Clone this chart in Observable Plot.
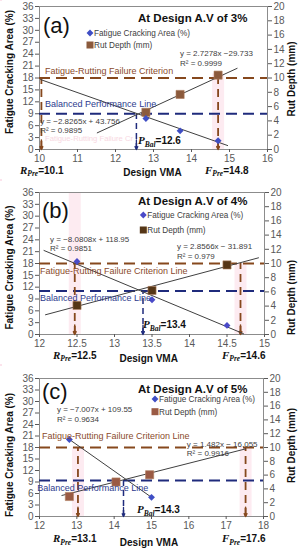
<!DOCTYPE html>
<html><head><meta charset="utf-8">
<script src="https://cdn.jsdelivr.net/npm/d3@7"></script>
<script src="https://cdn.jsdelivr.net/npm/@observablehq/plot@0.6"></script>
<style>
html,body{margin:0;padding:0;background:#fff}
#root{width:301px;height:550px;overflow:hidden}
#root svg{display:block;overflow:visible}
</style></head><body><div id="root"></div>
<script>
// ---------- shared ----------
const fatigueTicks = [0,3,6,9,12,15,18,21,24,27,30,33,36];
const rutTicks = [0,2,4,6,8,10,12,14,16,18,20];
const legendLabels = ["Fatigue Cracking Area (%)", "Rut Depth (mm)"];
const yTitleLeft = "Fatigue Cracking Area (%)";
const yTitleRight = "Rut Depth (mm)";
const xTitle = "Design VMA";

// ---------- panel (a) ----------
const tagA = "(a)", titleA = "At Design A.V of 3%";
const vmaDomainA = [10, 16], vmaTicksA = [10,11,12,13,14,15,16];
const fatigueVmaA = [12.8, 13.7, 14.7], fatigueA = [7.8, 4.7, 2.2];
const rutVmaA = [12.8, 13.7, 14.7], rutA = [5.2, 7.7, 10.4];
const fatigueFitVmaA = [10.03, 14.95], fatigueFitA = [17.6, 1.0];
const rutFitVmaA = [11.52, 15.2], rutFitA = [2.33, 11.35];
const criterionA = 18, balancedA = 9;
const rPreA = 10.05, pBalA = 12.55, fPreA = 14.7;
const rPreTextA = "=10.1", pBalTextA = "=12.6", fPreTextA = "=14.8";
const fatigueEqA = ["y = −2.8265x + 43.756", "R² = 0.9895"];
const rutEqA = ["y = 2.7278x −29.733", "R² = 0.9999"];
const criterionTextA = "Fatigue-Rutting Failure Criterion";
const balancedTextA = "Balanced Performance Line";

// ---------- panel (b) ----------
const tagB = "(b)", titleB = "At Design A.V of 4%";
const vmaDomainB = [12, 15], vmaTicksB = [12,12.5,13,13.5,14,14.5,15];
const fatigueVmaB = [12.5, 13.5, 14.5], fatigueB = [18.5, 8.8, 2.3];
const rutVmaB = [12.5, 13.5, 14.5], rutB = [4.1, 6.2, 9.8];
const fatigueFitVmaB = [12.06, 14.72], fatigueFitB = [21.3, 0.2];
const rutFitVmaB = [12.08, 14.92], rutFitB = [2.78, 10.8];
const criterionB = 18, balancedB = 11;
const rPreB = 12.47, pBalB = 13.38, fPreB = 14.68;
const rPreTextB = "=12.5", pBalTextB = "=13.4", fPreTextB = "=14.6";
const fatigueEqB = ["y = −8.0808x + 118.95", "R² = 0.9851"];
const rutEqB = ["y = 2.8566x − 31.891", "R² = 0.979"];
const criterionTextB = "Fatigue-Rutting Failure Criterion Line";
const balancedTextB = "Balanced Performance Line";

// ---------- panel (c) ----------
const tagC = "(c)", titleC = "At Design A.V of 5%";
const vmaDomainC = [12, 18], vmaTicksC = [12,13,14,15,16,17,18];
const fatigueVmaC = [12.8, 15.0], fatigueC = [20.1, 5.0];
const rutVmaC = [12.8, 14.05, 14.95], rutC = [2.9, 5.0, 6.05];
const fatigueFitVmaC = [12.8, 15.0], fatigueFitC = [20.1, 5.0];
const rutFitVmaC = [12.6, 17.52], rutFitC = [3.05, 9.8];
const criterionC = 18, balancedC = 9.4;
const rPreC = 13.03, pBalC = 14.25, fPreC = 17.52;
const rPreTextC = "=13.1", pBalTextC = "=14.3", fPreTextC = "=17.6";
const fatigueEqC = ["y = −7.007x + 109.55", "R² = 0.9634"];
const rutEqC = ["y = 1.482x − 16.055", "R² = 0.9916"];
const criterionTextC = "Fatigue-Rutting Failure Criterion Line";
const balancedTextC = "Balanced Performance Line";

const K = 36 / 20; // rut (mm) -> fatigue-axis units
const BROWN = "#86481d", NAVY = "#1f2b7c", FIT = "#404040";

const panels = [
  {tag: tagA, title: titleA, domain: vmaDomainA, ticks: vmaTicksA,
   fatX: fatigueVmaA, fat: fatigueA, rutX: rutVmaA, rut: rutA,
   fatFitX: fatigueFitVmaA, fatFit: fatigueFitA, rutFitX: rutFitVmaA, rutFit: rutFitA,
   criterion: criterionA, balanced: balancedA, rPre: rPreA, pBal: pBalA, fPre: fPreA,
   rPreText: rPreTextA, pBalText: pBalTextA, fPreText: fPreTextA,
   fatEq: fatigueEqA, rutEq: rutEqA, critText: criterionTextA, balText: balancedTextA,
   dia: "#3f4ec4", sq: "#8b5a3c"},
  {tag: tagB, title: titleB, domain: vmaDomainB, ticks: vmaTicksB,
   fatX: fatigueVmaB, fat: fatigueB, rutX: rutVmaB, rut: rutB,
   fatFitX: fatigueFitVmaB, fatFit: fatigueFitB, rutFitX: rutFitVmaB, rutFit: rutFitB,
   criterion: criterionB, balanced: balancedB, rPre: rPreB, pBal: pBalB, fPre: fPreB,
   rPreText: rPreTextB, pBalText: pBalTextB, fPreText: fPreTextB,
   fatEq: fatigueEqB, rutEq: rutEqB, critText: criterionTextB, balText: balancedTextB,
   dia: "#4a4ac8", sq: "#553617"},
  {tag: tagC, title: titleC, domain: vmaDomainC, ticks: vmaTicksC,
   fatX: fatigueVmaC, fat: fatigueC, rutX: rutVmaC, rut: rutC,
   fatFitX: fatigueFitVmaC, fatFit: fatigueFitC, rutFitX: rutFitVmaC, rutFit: rutFitC,
   criterion: criterionC, balanced: balancedC, rPre: rPreC, pBal: pBalC, fPre: fPreC,
   rPreText: rPreTextC, pBalText: pBalTextC, fPreText: fPreTextC,
   fatEq: fatigueEqC, rutEq: rutEqC, critText: criterionTextC, balText: balancedTextC,
   dia: "#3f4ec4", sq: "#9a5a44"}
];

// layout (pixels within each panel; annotation anchors in data units)
const layouts = [
  {height: 180, mt: 6, mb: 31, mr: 34, xpad: 2,
   tag: [43, 33], title: [138, 22], leg: [90, 33, 45],
   yTitleL: 72, yTitleR: 79, xTitle: [152.5, 176],
   rPreLab: [20, 173.5], fPreLab: [205, 173.5], pBalLab: [138, 144],
   fatEqAt: [10.03, 5.9], rutEqAt: [13.71, 22.9], critAt: [10.16, 19.6], balAt: [10.16, 11.3],
   strips: [{x: fPreA, y1: 0, y2: 19}], ghost: true},
  {height: 185, mt: 12, mb: 31, mr: 37, xpad: 2,
   tag: [42, 38], title: [138, 25], leg: [143.3, 35, 50],
   yTitleL: 87.5, yTitleR: 117.5, xTitle: [148.7, 181.5],
   rPreLab: [53, 178.5], fPreLab: [222, 178.5], pBalLab: [143, 148],
   fatEqAt: [12.147, 22.9], rutEqAt: [13.84, 21.0], critAt: [12.013, 16.0], balAt: [12.013, 9.1],
   strips: [{x: rPreB, y1: 0, y2: 36}, {x: fPreB, y1: 0, y2: 18}], ghost: false},
  {height: 185, mt: 13, mb: 34, mr: 38, xpad: 2,
   tag: [42, 34], title: [138, 28], leg: [155, 34, 46.7],
   yTitleL: 90, yTitleR: 80.5, xTitle: [149, 180.5],
   rPreLab: [53, 177], fPreLab: [222, 177], pBalLab: [137, 148],
   fatEqAt: [12.48, 26.6], rutEqAt: [15.96, 17.6], critAt: [12.08, 20.9], balAt: [11.95, 7.3],
   strips: [{x: rPreC, y1: 0, y2: 18}, {x: fPreC, y1: 0, y2: 18}], ghost: false}
];

const SANS = "'Liberation Sans', Arial, sans-serif";
const SERIF = "'Liberation Serif', 'Times New Roman', serif";

function renderPanel(P, L) {
  const fatPts = P.fatX.map((x, i) => ({x, y: P.fat[i]}));
  const rutPts = P.rutX.map((x, i) => ({x, y: P.rut[i] * K}));
  const fatFit = P.fatFitX.map((x, i) => ({x, y: P.fatFit[i]}));
  const rutFit = P.rutFitX.map((x, i) => ({x, y: P.rutFit[i] * K}));
  const brownV = [{x: P.rPre, y2: P.criterion}, {x: P.fPre, y2: P.criterion}];
  const navyV = [{x: P.pBal, y2: P.balanced}];

  const chart = Plot.plot({
    width: 301, height: L.height,
    marginTop: L.mt, marginBottom: L.mb, marginLeft: 39, marginRight: L.mr,
    style: {fontFamily: SANS, fontSize: "10px", color: "#595959", background: "#fff"},
    x: {domain: P.domain, label: null},
    y: {domain: [0, 36], label: null},
    marks: [
      Plot.ruleX(L.strips, {x: "x", y1: "y1", y2: "y2", stroke: "#fdebf1", strokeWidth: 12}),
      Plot.frame({stroke: "#8c8c8c"}),
      Plot.axisY({ticks: fatigueTicks, tickSize: 4, tickPadding: 2, label: null}),
      Plot.axisY({anchor: "right", ticks: rutTicks.map(r => r * K),
                  tickFormat: d => String(Math.round(d / K)), tickSize: 4, tickPadding: 2, label: null}),
      Plot.axisX({ticks: P.ticks, tickFormat: d => String(d), tickSize: 3, tickPadding: L.xpad, label: null}),
      Plot.ruleY([P.criterion], {stroke: BROWN, strokeWidth: 2, strokeDasharray: "11,6"}),
      Plot.ruleY([P.balanced], {stroke: NAVY, strokeWidth: 2, strokeDasharray: "11,6"}),
      Plot.ruleX(brownV, {x: "x", y1: 0, y2: "y2", stroke: BROWN, strokeWidth: 1.8, strokeDasharray: "8,5"}),
      Plot.ruleX(navyV, {x: "x", y1: 0, y2: "y2", stroke: NAVY, strokeWidth: 1.5, strokeDasharray: "6,4"}),
      Plot.arrow(brownV, {x1: "x", x2: "x", y1: 2.4, y2: 0, stroke: BROWN, strokeWidth: 1.5, headLength: 9, headAngle: 50}),
      Plot.arrow(navyV, {x1: "x", x2: "x", y1: 2.4, y2: 0, stroke: NAVY, strokeWidth: 1.3, headLength: 9, headAngle: 50}),
      Plot.line(fatFit, {x: "x", y: "y", stroke: FIT, strokeWidth: 1}),
      Plot.line(rutFit, {x: "x", y: "y", stroke: FIT, strokeWidth: 1}),
      Plot.dot(rutPts, {x: "x", y: "y", symbol: "square", fill: P.sq, stroke: "#b08060", strokeWidth: 0.6, r: 4.6}),
      Plot.dot(fatPts, {x: "x", y: "y", symbol: "diamond2", fill: P.dia, stroke: "none", r: 3.1})
    ]
  });

  const svg = d3.select(chart);
  const sx = v => chart.scale("x").apply(v);
  const sy = v => chart.scale("y").apply(v);
  const under = svg.insert("g", ":first-child");

  const txt = (x, y, s, o = {}) => {
    const t = svg.append("text").attr("x", x).attr("y", y)
      .attr("font-family", o.family || SANS).attr("font-size", o.size || 10)
      .attr("fill", o.fill || "#111").attr("text-anchor", o.anchor || "start");
    if (o.weight) t.attr("font-weight", o.weight);
    if (o.rotate) t.attr("transform", `rotate(${o.rotate},${x},${y})`);
    if (o.len) t.attr("textLength", o.len).attr("lengthAdjust", "spacingAndGlyphs");
    t.text(s);
    return t;
  };

  // tag and title
  txt(L.tag[0], L.tag[1], P.tag, {size: 22, fill: "#111"});
  txt(L.title[0], L.title[1], P.title, {size: 11.5, weight: "bold", fill: "#111"});

  // legend
  const lx = L.leg[0];
  svg.append("path").attr("d", d3.symbol(d3.symbolDiamond2, 30)())
    .attr("transform", `translate(${lx},${L.leg[1]})`).attr("fill", P.dia);
  svg.append("rect").attr("x", lx - 3.5).attr("y", L.leg[2] - 3.5).attr("width", 7).attr("height", 7).attr("fill", P.sq);
  txt(lx + 4, L.leg[1] + 3, legendLabels[0], {size: 8.2, fill: "#404040"});
  txt(lx + 4, L.leg[2] + 3, legendLabels[1], {size: 8.2, fill: "#404040"});

  // axis titles
  txt(13, L.yTitleL, yTitleLeft, {size: 10, weight: "bold", anchor: "middle", rotate: -90});
  txt(295, L.yTitleR, yTitleRight, {size: 10, weight: "bold", anchor: "middle", rotate: -90});
  txt(L.xTitle[0], L.xTitle[1], xTitle, {size: 10, weight: "bold", anchor: "middle"});

  // faint ghost label (panel a), drawn first so it stays behind
  if (L.ghost) txt(sx(L.critAt[0]), sy(1.9), P.critText.slice(0, 26), {size: 8, fill: "#f7d7e1", len: 88});

  // regression equations
  const eq = (at, lines) => {
    const t = svg.append("text").attr("font-family", SANS).attr("font-size", 8)
      .attr("fill", FIT).attr("text-anchor", "start");
    lines.forEach((s, i) => t.append("tspan").attr("x", sx(at[0])).attr("y", sy(at[1]) - 2 + i * 9.6).text(s));
  };
  eq(L.fatEqAt, P.fatEq);
  eq(L.rutEqAt, P.rutEq);

  // reference line labels (with faint highlight)
  const crit = txt(sx(L.critAt[0]), sy(L.critAt[1]) + 3, P.critText, {size: 9, fill: "#8a4a2c"});
  const bb = crit.node().getBBox();
  under.append("rect").attr("x", bb.x - 2).attr("y", bb.y - 1).attr("width", bb.width + 4).attr("height", bb.height + 2).attr("fill", "#fce3ec");
  txt(sx(L.balAt[0]), sy(L.balAt[1]) + 3, P.balText, {size: 9, fill: "#2d3b8e"});

  // predicted / balanced value labels
  const rich = (x, y, main, sub, val) => {
    const t = svg.append("text").attr("x", x).attr("y", y).attr("font-weight", "bold")
      .attr("fill", "#111").attr("text-anchor", "start");
    t.append("tspan").attr("font-family", SERIF).attr("font-style", "italic").attr("font-size", 11).text(main);
    t.append("tspan").attr("font-family", SERIF).attr("font-style", "italic").attr("font-size", 7.5).attr("dy", 2.5).text(sub);
    t.append("tspan").attr("font-family", SANS).attr("font-size", 10).attr("dy", -2.5).text(val);
  };
  rich(L.rPreLab[0], L.rPreLab[1], "R", "Pre", P.rPreText);
  rich(L.fPreLab[0], L.fPreLab[1], "F", "Pre", P.fPreText);
  rich(L.pBalLab[0], L.pBalLab[1], "P", "Bal", P.pBalText);

  return chart;
}

const root = document.getElementById("root");
panels.forEach((P, i) => root.appendChild(renderPanel(P, layouts[i])));
</script>
</body></html>
